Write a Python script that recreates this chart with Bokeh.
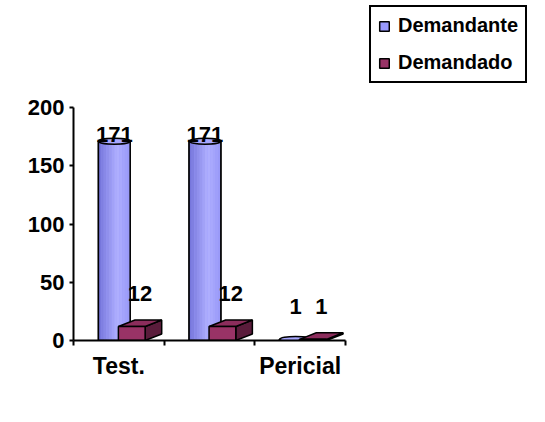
import numpy as np
from bokeh.plotting import figure
from bokeh.models import Range1d, FixedTicker, Legend, LegendItem
from bokeh.embed import file_html
from bokeh.resources import INLINE
from bokeh.core.properties import value

categories = ["Test.", "", "Pericial"]
demandante = [171, 171, 1]
demandado = [12, 12, 1]
y_ticks = [0, 50, 100, 150, 200]

FONT = "Liberation Sans"
BLUE = "#9999FF"
RED = "#993366"
RED_TOP = "#8C2D5C"
RED_SIDE = "#5A1C3B"

n = len(categories)
idx = np.arange(n)
dem = np.array(demandante, dtype=float)
ddo = np.array(demandado, dtype=float)

# geometry (pixels): plot area of the axes
W, H = 537, 414
AX_LEFT, AX_RIGHT = 73, 345      # x of category 0 start / category n end
AX_BOTTOM, AX_TOP = 340, 107     # y of value 0 / value 200
ymax_axis = y_ticks[-1]
px_per_cat = (AX_RIGHT - AX_LEFT) / n
px_per_val = (AX_BOTTOM - AX_TOP) / ymax_axis
x_end = (W - AX_LEFT) / px_per_cat
y_end = AX_BOTTOM / px_per_val

p = figure(width=W, height=H, output_backend="svg", toolbar_location=None,
           x_range=Range1d(0, x_end), y_range=Range1d(0, y_end),
           min_border_left=AX_LEFT, min_border_right=0, min_border_top=0,
           min_border_bottom=H - AX_BOTTOM)
p.outline_line_color = None
p.xgrid.visible = False
p.ygrid.visible = False
p.background_fill_color = "white"
p.border_fill_color = "white"

# ---- Demandante: cylinders with faked shading ----
bw = 0.35
bc = idx + 0.45
base = p.vbar(x=bc, top=dem, bottom=0, width=bw, fill_color=BLUE, line_color="black", line_width=1.5)

nstripes = 12
t = np.linspace(0, 1, nstripes)
dark = np.array([118, 118, 220])
light = np.array([176, 176, 255])
mid = np.array([154, 154, 248])
cols = []
for tt in t:
    if tt < 0.6:
        c = dark + (light - dark) * (tt / 0.6)
    else:
        c = light + (mid - light) * ((tt - 0.6) / 0.4)
    cols.append("#%02x%02x%02x" % tuple(int(round(v)) for v in c))
sl, sr, st, sc = [], [], [], []
for i in range(n):
    left = bc[i] - bw / 2
    step = bw / nstripes
    for k in range(nstripes):
        sl.append(left + k * step)
        sr.append(left + (k + 1) * step + 0.001)
        st.append(dem[i])
        sc.append(cols[k])
p.quad(left=sl, right=sr, bottom=0, top=st, fill_color=sc, line_color=None)
p.vbar(x=bc, top=dem, bottom=0, width=bw, fill_color=None, line_color="black", line_width=1.5)
p.ellipse(x=bc, y=dem, width=bw, height=5, fill_color="#A8A8FF", line_color="black", line_width=1.5)

# ---- Demandado: 3D boxes ----
fl = idx + 0.495
fr = idx + 0.79
dx = 0.183
dy = 5.6
side_xs = [[fr[i], fr[i] + dx, fr[i] + dx, fr[i]] for i in range(n)]
side_ys = [[0, dy, ddo[i] + dy, ddo[i]] for i in range(n)]
top_xs = [[fl[i], fr[i], fr[i] + dx, fl[i] + dx] for i in range(n)]
top_ys = [[ddo[i], ddo[i], ddo[i] + dy, ddo[i] + dy] for i in range(n)]
p.patches(xs=side_xs, ys=side_ys, fill_color=RED_SIDE, line_color="black", line_width=1.5)
p.patches(xs=top_xs, ys=top_ys, fill_color=RED_TOP, line_color="black", line_width=1.5)
front = p.quad(left=fl, right=fr, bottom=0, top=ddo, fill_color=RED, line_color="black", line_width=1.5)

# ---- data labels ----
lab_kw = dict(text_align="center", text_baseline="middle", text_font=value(FONT),
              text_font_style="bold", text_font_size="22px", text_color="black")
p.text(x=bc, y=np.minimum(dem + 28, 177), text=[str(v) for v in demandante], **lab_kw)
p.text(x=fl + (fr - fl) / 2 + dx / 2, y=np.minimum(ddo + 28, 177), text=[str(v) for v in demandado], **lab_kw)

# ---- axes ----
xa = p.xaxis[0]
xa.bounds = (0, n)
xa.ticker = FixedTicker(ticks=list(idx + 0.5), minor_ticks=list(range(n + 1)))
xa.major_label_overrides = {float(i + 0.5): c for i, c in enumerate(categories)}
xa.major_tick_line_color = None
xa.major_tick_out = 0
xa.major_tick_in = 0
xa.minor_tick_out = 5
xa.minor_tick_in = 0
xa.minor_tick_line_color = "black"
xa.minor_tick_line_width = 2
xa.axis_line_width = 2
xa.major_label_standoff = 7
xa.major_label_text_font = FONT
xa.major_label_text_font_style = "bold"
xa.major_label_text_font_size = "23px"
xa.major_label_text_color = "black"

ya = p.yaxis[0]
ya.bounds = (0, ymax_axis)
ya.ticker = FixedTicker(ticks=y_ticks)
ya.minor_tick_line_color = None
ya.major_tick_out = 4
ya.major_tick_in = 0
ya.major_tick_line_width = 2
ya.axis_line_width = 2
ya.major_label_standoff = 5
ya.major_label_text_font = FONT
ya.major_label_text_font_style = "bold"
ya.major_label_text_font_size = "22px"
ya.major_label_text_color = "black"

legend = Legend(items=[LegendItem(label="Demandante", renderers=[base]),
                       LegendItem(label="Demandado", renderers=[front])],
                location=(369 - AX_LEFT, AX_BOTTOM - 83))
legend.label_text_font = FONT
legend.label_text_font_style = "bold"
legend.label_text_font_size = "20px"
legend.label_text_color = "black"
legend.glyph_width = 12
legend.glyph_height = 12
legend.label_height = 21
legend.label_standoff = 8
legend.spacing = 14
legend.padding = 7
legend.margin = 0
legend.border_line_color = "black"
legend.border_line_alpha = 1
legend.border_line_width = 2
legend.background_fill_color = "white"
legend.background_fill_alpha = 1
p.add_layout(legend)

open("out.html", "w").write(file_html(p, INLINE))
